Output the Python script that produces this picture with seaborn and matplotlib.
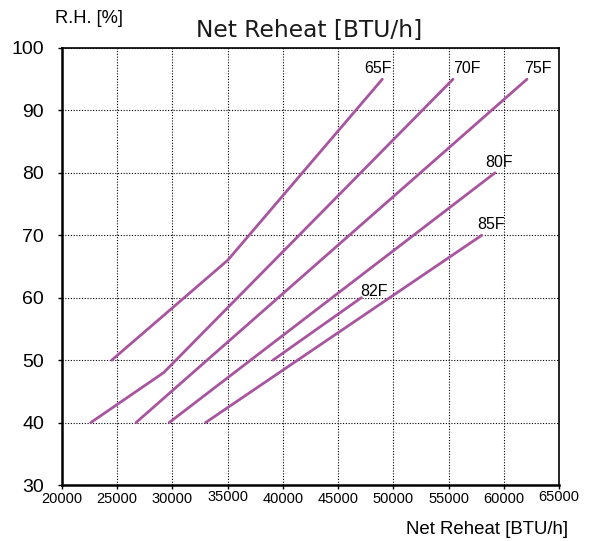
import matplotlib
matplotlib.use("Agg")
import matplotlib.pyplot as plt
import seaborn as sns
import pandas as pd

sns.set_theme(style="white")
plt.rcParams['font.family'] = ['Liberation Sans', 'DejaVu Sans']

# Data: curves of R.H. vs Net Reheat for several temperatures
t65_x = [24500, 35000, 49000]
t65_y = [50, 66, 95]
t70_x = [22600, 29200, 55400]
t70_y = [40, 48, 95]
t75_x = [26700, 62100]
t75_y = [40, 95]
t80_x = [29700, 59200]
t80_y = [40, 80]
t82_x = [39100, 47100]
t82_y = [50, 60]
t85_x = [33000, 58000]
t85_y = [40, 70]

curve_names = ["65F", "70F", "75F", "80F", "82F", "85F"]
curve_x = [t65_x, t70_x, t75_x, t80_x, t82_x, t85_x]
curve_y = [t65_y, t70_y, t75_y, t80_y, t82_y, t85_y]

# label anchor positions (data coords)
label_x = [47400, 55400, 61800, 58300, 47000, 57600]
label_y = [95.5, 95.5, 95.5, 80.5, 59.8, 70.5]

x_ticks = [20000, 25000, 30000, 35000, 40000, 45000, 50000, 55000, 60000, 65000]
y_ticks = [30, 40, 50, 60, 70, 80, 90, 100]

rows = []
for name, xs, ys in zip(curve_names, curve_x, curve_y):
    for xv, yv in zip(xs, ys):
        rows.append({"curve": name, "reheat": xv, "rh": yv})
df = pd.DataFrame(rows)

line_color = "#A8559F"

fig = plt.figure(figsize=(5.93, 5.41), dpi=100)
ax = fig.add_axes([0.1046, 0.1035, 0.9427 - 0.1046, 0.9113 - 0.1035])

sns.lineplot(data=df, x="reheat", y="rh", hue="curve", units="curve",
             estimator=None, sort=False,
             palette={n: line_color for n in curve_names},
             linewidth=2.0, legend=False, ax=ax)

ax.set_xlim(20000, 65000)
ax.set_ylim(30, 100)
ax.set_xticks(x_ticks)
ax.set_yticks(y_ticks)
ax.set_xticklabels([str(v) for v in x_ticks], fontsize=10.5)
ax.set_yticklabels([str(v) for v in y_ticks], fontsize=14)
ax.grid(True, color="black", linestyle=(0, (1, 1.5)), linewidth=0.8)
ax.tick_params(axis="both", which="both", direction="out", length=3, width=1,
               color="black", bottom=True, left=True, pad=2, labelcolor="black")
ax.tick_params(axis="y", pad=10)
# slight stagger of some x tick labels as in the reference
xt = ax.xaxis.get_major_ticks()
xt[3].set_pad(0.5)
xt[9].set_pad(0.5)
for s in ax.spines.values():
    s.set_visible(True)
    s.set_color("black")
    s.set_linewidth(1.2)
ax.spines["left"].set_linewidth(1.8)
ax.spines["bottom"].set_linewidth(1.8)
ax.set_xlabel("")
ax.set_ylabel("")

for name, lx, ly in zip(curve_names, label_x, label_y):
    ax.text(lx, ly, name, fontsize=11.5, ha="left", va="bottom", color="black")

fig.text(0.5211, 0.943, "Net Reheat [BTU/h]", fontsize=16.8, ha="center", va="center",
         color="#1a1a1a", family=["DejaVu Sans"])
fig.text(0.0928, 0.966, "R.H. [%]", fontsize=13.2, ha="left", va="center", color="black")
fig.text(0.958, 0.022, "Net Reheat [BTU/h]", fontsize=13.4, ha="right", va="center", color="black")

fig.savefig("out.png", dpi=100, facecolor="white")
